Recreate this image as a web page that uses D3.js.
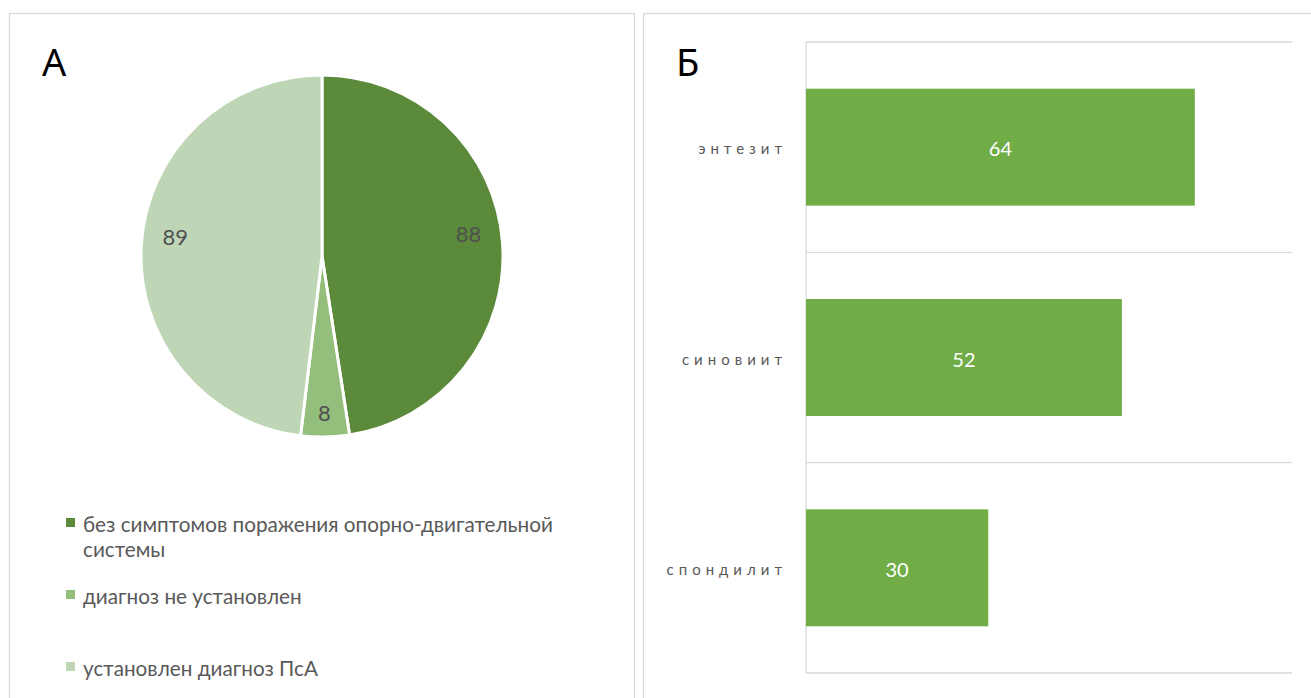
<!DOCTYPE html>
<html><head><meta charset="utf-8">
<script src="https://cdn.jsdelivr.net/npm/d3@7"></script>
<style>body{margin:0;background:#fff;}svg{display:block;}</style>
</head><body>
<svg id="c" width="1311" height="698"></svg>
<script>
// Panel A (pie)
const pieCategories = ["без симптомов поражения опорно-двигательной системы", "диагноз не установлен", "установлен диагноз ПсА"];
const pieValues = [88, 8, 89];
const pieColors = ["#5A8A3A", "#93BE7B", "#BED6B6"];
const legendLines = [["без симптомов поражения опорно-двигательной", "системы"], ["диагноз не установлен"], ["установлен диагноз ПсА"]];
// Panel Б (bars)
const barCategories = ["энтезит", "синовиит", "спондилит"];
const barValues = [64, 52, 30];
const barColor = "#70AD47";

const svg = d3.select("#c");
const FONT = "Lato, 'Open Sans', sans-serif";

// panel frames
svg.append("rect").attr("x", 9.5).attr("y", 13.5).attr("width", 625).attr("height", 700)
  .attr("fill", "none").attr("stroke", "#d9d9d9").attr("stroke-width", 1.3);
svg.append("rect").attr("x", 643.5).attr("y", 13.5).attr("width", 700).attr("height", 700)
  .attr("fill", "none").attr("stroke", "#d9d9d9").attr("stroke-width", 1.3);

// panel letters
svg.append("text").attr("x", 42).attr("y", 76).text("А")
  .attr("font-family", "'Noto Sans', sans-serif").attr("font-size", 38).attr("fill", "#000");
svg.append("text").attr("x", 676).attr("y", 76).text("Б")
  .attr("font-family", "'Noto Sans', sans-serif").attr("font-size", 38).attr("fill", "#000");

// ---- Pie ----
const cx = 322, cy = 256, R = 181;
const pie = d3.pie().sort(null).value(d => d)(pieValues);
const arc = d3.arc().innerRadius(0).outerRadius(R);
const labelArc = d3.arc().innerRadius(147).outerRadius(147);
const gp = svg.append("g").attr("transform", `translate(${cx},${cy})`);
gp.selectAll("path").data(pie).join("path")
  .attr("d", arc).attr("fill", (d, i) => pieColors[i])
  .attr("stroke", "#fff").attr("stroke-width", 3).attr("stroke-linejoin", "round");
gp.selectAll("text").data(pie).join("text")
  .attr("transform", d => { const c = labelArc.centroid(d); return `translate(${c[0]},${c[1] + (d.index === 1 ? 10 : -11)})`; })
  .attr("text-anchor", "middle").attr("dominant-baseline", "central")
  .attr("font-family", FONT).attr("font-size", 22).attr("fill", "#505050")
  .text(d => d.data);

// ---- Legend ----
const legendY = [532, 604, 676];
const lg = svg.append("g");
legendLines.forEach((lines, i) => {
  lg.append("rect").attr("x", 66).attr("y", legendY[i] - 14).attr("width", 9).attr("height", 9).attr("fill", pieColors[i]);
  lines.forEach((ln, j) => {
    lg.append("text").attr("class", "lgt").attr("x", 83).attr("y", legendY[i] + j * 25)
      .attr("font-family", FONT).attr("font-size", 19).attr("fill", "#595959").text(ln);
  });
});
// fit legend font size so the longest line spans the reference width
const first = lg.select(".lgt").node();
const w = first.getComputedTextLength();
const fs = 19 * 470 / w;
lg.selectAll(".lgt").attr("font-size", fs);

// ---- Bars ----
const x0 = 806, x1 = 1292, y0 = 42, y1 = 673;
const x = d3.scaleLinear().domain([0, 80]).range([x0, x1]);
const y = d3.scaleBand().domain(barCategories).range([y0, y1]).paddingInner(0.444).paddingOuter(0.222);
const gb = svg.append("g");
// gridlines at category boundaries
const bounds = d3.range(barCategories.length + 1).map(i => y0 + i * y.step());
gb.selectAll("line.grid").data(bounds).join("line").attr("class", "grid")
  .attr("x1", x0).attr("x2", x1).attr("y1", d => d).attr("y2", d => d)
  .attr("stroke", "#d9d9d9").attr("stroke-width", 1.3);
gb.append("line").attr("x1", x0).attr("x2", x0).attr("y1", y0).attr("y2", y1)
  .attr("stroke", "#d9d9d9").attr("stroke-width", 1.3);
gb.selectAll("rect").data(barValues).join("rect")
  .attr("x", x(0)).attr("y", (d, i) => y(barCategories[i]))
  .attr("width", d => x(d) - x(0)).attr("height", y.bandwidth()).attr("fill", barColor);
gb.selectAll("text.val").data(barValues).join("text").attr("class", "val")
  .attr("x", d => (x(0) + x(d)) / 2).attr("y", (d, i) => y(barCategories[i]) + y.bandwidth() / 2 + 1)
  .attr("text-anchor", "middle").attr("dominant-baseline", "central")
  .attr("font-family", FONT).attr("font-size", 20).attr("fill", "#fff").text(d => d);
// category labels
gb.selectAll("text.cat").data(barCategories).join("text").attr("class", "cat")
  .attr("x", 787).attr("y", d => y(d) + y.bandwidth() / 2 + 1)
  .attr("text-anchor", "end").attr("dominant-baseline", "central")
  .attr("font-family", FONT).attr("font-size", 15).attr("letter-spacing", "5px")
  .attr("fill", "#595959").text(d => d);
</script>
</body></html>
